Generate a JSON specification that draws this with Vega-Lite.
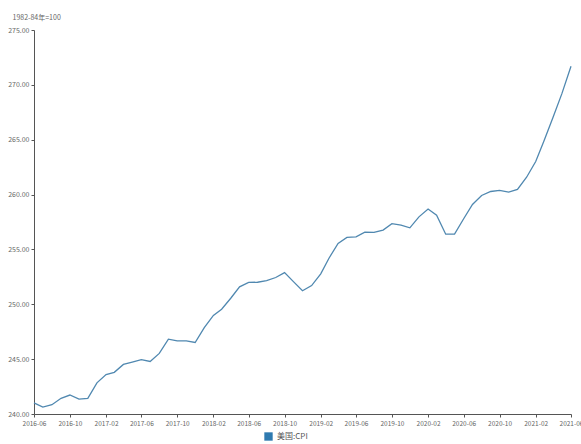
{
  "$schema": "https://vega.github.io/schema/vega-lite/v6.json",
  "width": 537,
  "height": 384,
  "autosize": {"type": "none"},
  "padding": {"left": 34, "top": 30, "right": 10, "bottom": 30},
  "background": "white",
  "config": {
    "view": {"stroke": null},
    "font": "Noto Sans CJK SC",
    "axis": {"grid": false, "domainColor": "#555", "tickColor": "#555", "labelColor": "#666", "labelFontSize": 7, "tickSize": 3, "labelFont": "Noto Sans CJK SC"}
  },
  "data": {
    "values": [
      {"date": "2016-06-01", "v": 241.02, "s": "美国:CPI"},
      {"date": "2016-07-01", "v": 240.63, "s": "美国:CPI"},
      {"date": "2016-08-01", "v": 240.85, "s": "美国:CPI"},
      {"date": "2016-09-01", "v": 241.43, "s": "美国:CPI"},
      {"date": "2016-10-01", "v": 241.73, "s": "美国:CPI"},
      {"date": "2016-11-01", "v": 241.35, "s": "美国:CPI"},
      {"date": "2016-12-01", "v": 241.43, "s": "美国:CPI"},
      {"date": "2017-01-01", "v": 242.84, "s": "美国:CPI"},
      {"date": "2017-02-01", "v": 243.60, "s": "美国:CPI"},
      {"date": "2017-03-01", "v": 243.80, "s": "美国:CPI"},
      {"date": "2017-04-01", "v": 244.52, "s": "美国:CPI"},
      {"date": "2017-05-01", "v": 244.73, "s": "美国:CPI"},
      {"date": "2017-06-01", "v": 244.96, "s": "美国:CPI"},
      {"date": "2017-07-01", "v": 244.79, "s": "美国:CPI"},
      {"date": "2017-08-01", "v": 245.52, "s": "美国:CPI"},
      {"date": "2017-09-01", "v": 246.82, "s": "美国:CPI"},
      {"date": "2017-10-01", "v": 246.66, "s": "美国:CPI"},
      {"date": "2017-11-01", "v": 246.67, "s": "美国:CPI"},
      {"date": "2017-12-01", "v": 246.52, "s": "美国:CPI"},
      {"date": "2018-01-01", "v": 247.87, "s": "美国:CPI"},
      {"date": "2018-02-01", "v": 248.99, "s": "美国:CPI"},
      {"date": "2018-03-01", "v": 249.55, "s": "美国:CPI"},
      {"date": "2018-04-01", "v": 250.55, "s": "美国:CPI"},
      {"date": "2018-05-01", "v": 251.59, "s": "美国:CPI"},
      {"date": "2018-06-01", "v": 251.99, "s": "美国:CPI"},
      {"date": "2018-07-01", "v": 252.01, "s": "美国:CPI"},
      {"date": "2018-08-01", "v": 252.15, "s": "美国:CPI"},
      {"date": "2018-09-01", "v": 252.44, "s": "美国:CPI"},
      {"date": "2018-10-01", "v": 252.89, "s": "美国:CPI"},
      {"date": "2018-11-01", "v": 252.04, "s": "美国:CPI"},
      {"date": "2018-12-01", "v": 251.23, "s": "美国:CPI"},
      {"date": "2019-01-01", "v": 251.71, "s": "美国:CPI"},
      {"date": "2019-02-01", "v": 252.78, "s": "美国:CPI"},
      {"date": "2019-03-01", "v": 254.20, "s": "美国:CPI"},
      {"date": "2019-04-01", "v": 255.55, "s": "美国:CPI"},
      {"date": "2019-05-01", "v": 256.09, "s": "美国:CPI"},
      {"date": "2019-06-01", "v": 256.14, "s": "美国:CPI"},
      {"date": "2019-07-01", "v": 256.57, "s": "美国:CPI"},
      {"date": "2019-08-01", "v": 256.56, "s": "美国:CPI"},
      {"date": "2019-09-01", "v": 256.76, "s": "美国:CPI"},
      {"date": "2019-10-01", "v": 257.35, "s": "美国:CPI"},
      {"date": "2019-11-01", "v": 257.21, "s": "美国:CPI"},
      {"date": "2019-12-01", "v": 256.97, "s": "美国:CPI"},
      {"date": "2020-01-01", "v": 257.97, "s": "美国:CPI"},
      {"date": "2020-02-01", "v": 258.68, "s": "美国:CPI"},
      {"date": "2020-03-01", "v": 258.12, "s": "美国:CPI"},
      {"date": "2020-04-01", "v": 256.39, "s": "美国:CPI"},
      {"date": "2020-05-01", "v": 256.39, "s": "美国:CPI"},
      {"date": "2020-06-01", "v": 257.80, "s": "美国:CPI"},
      {"date": "2020-07-01", "v": 259.10, "s": "美国:CPI"},
      {"date": "2020-08-01", "v": 259.92, "s": "美国:CPI"},
      {"date": "2020-09-01", "v": 260.28, "s": "美国:CPI"},
      {"date": "2020-10-01", "v": 260.39, "s": "美国:CPI"},
      {"date": "2020-11-01", "v": 260.23, "s": "美国:CPI"},
      {"date": "2020-12-01", "v": 260.47, "s": "美国:CPI"},
      {"date": "2021-01-01", "v": 261.58, "s": "美国:CPI"},
      {"date": "2021-02-01", "v": 263.01, "s": "美国:CPI"},
      {"date": "2021-03-01", "v": 264.88, "s": "美国:CPI"},
      {"date": "2021-04-01", "v": 267.05, "s": "美国:CPI"},
      {"date": "2021-05-01", "v": 269.20, "s": "美国:CPI"},
      {"date": "2021-06-01", "v": 271.70, "s": "美国:CPI"}
    ]
  },
  "mark": {"type": "line", "strokeWidth": 1.3, "interpolate": "linear"},
  "encoding": {
    "x": {
      "field": "date",
      "type": "temporal",
      "scale": {"type": "utc", "domain": [{"year": 2016, "month": 6, "date": 1, "utc": true}, {"year": 2021, "month": 6, "date": 1, "utc": true}]},
      "axis": {
        "title": null,
        "format": "%Y-%m",
        "labelFlush": false,
        "labelFontSize": 6.5,
        "labelPadding": 3,
        "values": [
          {"year": 2016, "month": 6, "date": 1, "utc": true},
          {"year": 2016, "month": 10, "date": 1, "utc": true},
          {"year": 2017, "month": 2, "date": 1, "utc": true},
          {"year": 2017, "month": 6, "date": 1, "utc": true},
          {"year": 2017, "month": 10, "date": 1, "utc": true},
          {"year": 2018, "month": 2, "date": 1, "utc": true},
          {"year": 2018, "month": 6, "date": 1, "utc": true},
          {"year": 2018, "month": 10, "date": 1, "utc": true},
          {"year": 2019, "month": 2, "date": 1, "utc": true},
          {"year": 2019, "month": 6, "date": 1, "utc": true},
          {"year": 2019, "month": 10, "date": 1, "utc": true},
          {"year": 2020, "month": 2, "date": 1, "utc": true},
          {"year": 2020, "month": 6, "date": 1, "utc": true},
          {"year": 2020, "month": 10, "date": 1, "utc": true},
          {"year": 2021, "month": 2, "date": 1, "utc": true},
          {"year": 2021, "month": 6, "date": 1, "utc": true}
        ]
      }
    },
    "y": {
      "field": "v",
      "type": "quantitative",
      "scale": {"domain": [240, 275], "nice": false, "zero": false},
      "axis": {
        "values": [240, 245, 250, 255, 260, 265, 270, 275],
        "format": ".2f",
        "labelPadding": 2,
        "title": "1982-84年=100",
        "titleAngle": 0,
        "titleAlign": "left",
        "titleBaseline": "middle",
        "titleX": -22,
        "titleY": -13,
        "titleFontSize": 7,
        "titleFontWeight": "normal",
        "titleColor": "#666"
      }
    },
    "color": {
      "field": "s",
      "type": "nominal",
      "scale": {"range": ["#5088b0"]},
      "legend": {
        "title": null,
        "orient": "none",
        "legendX": 230,
        "legendY": 402,
        "symbolType": "square",
        "symbolSize": 70,
        "symbolFillColor": "#2f7ab0",
        "symbolStrokeColor": "#2f7ab0",
        "symbolStrokeWidth": 0,
        "labelFontSize": 8,
        "labelColor": "#555",
        "labelFont": "Noto Sans CJK SC"
      }
    }
  }
}
